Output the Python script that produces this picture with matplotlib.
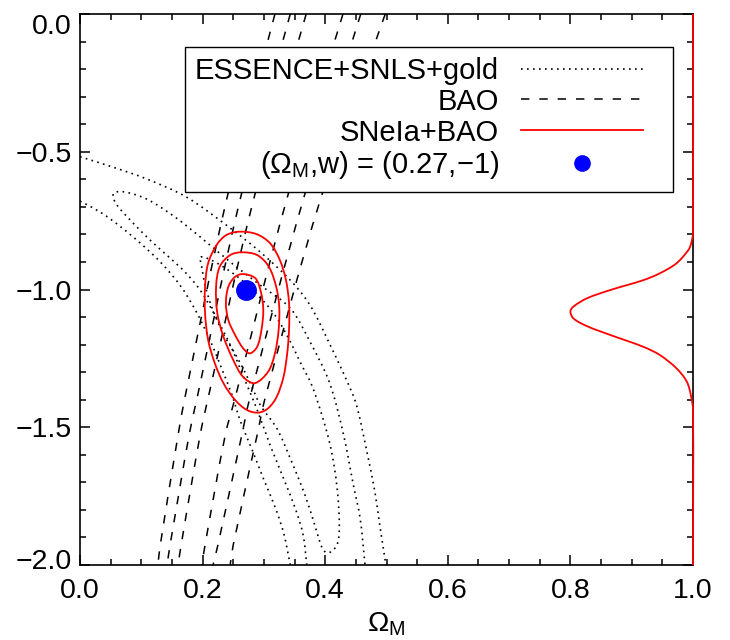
import matplotlib
matplotlib.use("Agg")
import numpy as np
import matplotlib.pyplot as plt
import matplotlib.transforms as mtransforms
from matplotlib.lines import Line2D
from matplotlib.path import Path
from matplotlib.patches import PathPatch
from matplotlib.legend_handler import HandlerLine2D
from matplotlib.ticker import MultipleLocator, FixedLocator, FixedFormatter

plt.rcParams['font.family'] = ['Liberation Sans', 'DejaVu Sans']
plt.rcParams['mathtext.fontset'] = 'custom'
plt.rcParams['mathtext.rm'] = 'Liberation Sans'
plt.rcParams['mathtext.it'] = 'Liberation Sans:italic'
plt.rcParams['mathtext.default'] = 'regular'

# ---------------- data ----------------
# SN (ESSENCE+SNLS+gold) contours, dotted
sn_outer_upper_om = [0.000, 0.054, 0.109, 0.174, 0.245, 0.294, 0.343, 0.375, 0.408, 0.436, 0.451, 0.468, 0.481, 0.489, 0.499]
sn_outer_upper_w = [-0.518, -0.556, -0.599, -0.665, -0.777, -0.864, -0.966, -1.056, -1.201, -1.335, -1.419, -1.589, -1.734, -1.855, -2.0]
sn_outer_lower_om = [0.000, 0.033, 0.065, 0.098, 0.131, 0.163, 0.188, 0.212, 0.232, 0.248, 0.261, 0.281, 0.300, 0.320, 0.333, 0.343]
sn_outer_lower_w = [-0.679, -0.719, -0.770, -0.831, -0.900, -0.984, -1.074, -1.183, -1.292, -1.383, -1.474, -1.583, -1.691, -1.800, -1.891, -2.0]
sn_mid_om = [0.370, 0.364, 0.352, 0.333, 0.310, 0.289, 0.269, 0.245, 0.220, 0.196, 0.171, 0.147, 0.114, 0.082, 0.060, 0.054,
             0.056, 0.073, 0.109, 0.155, 0.196, 0.245, 0.294, 0.343, 0.375, 0.407, 0.430, 0.446, 0.457, 0.465]
sn_mid_w = [-2.0, -1.891, -1.800, -1.691, -1.564, -1.437, -1.329, -1.201, -1.093, -1.002, -0.936, -0.886, -0.820, -0.748, -0.693, -0.664,
            -0.648, -0.646, -0.672, -0.737, -0.809, -0.900, -0.984, -1.068, -1.189, -1.338, -1.528, -1.710, -1.831, -2.0]
sn_inner_om = [0.197, 0.220, 0.253, 0.285, 0.318, 0.343, 0.359, 0.378, 0.396, 0.408, 0.416, 0.421, 0.423, 0.421, 0.413, 0.403,
               0.395, 0.383, 0.367, 0.343, 0.321, 0.294, 0.277, 0.256, 0.233, 0.215, 0.204, 0.199, 0.197]
sn_inner_w = [-0.882, -0.900, -0.947, -1.009, -1.093, -1.189, -1.263, -1.347, -1.466, -1.564, -1.661, -1.757, -1.855, -1.915, -1.946, -1.956,
              -1.938, -1.855, -1.746, -1.613, -1.504, -1.419, -1.336, -1.245, -1.158, -1.064, -0.984, -0.922, -0.882]

# BAO contours, dashed (six edges, left to right)
bao_w = [0.0, -0.675, -1.394, -1.528, -1.927, -2.0]
bao_l3_om = [0.318, 0.239, 0.171, 0.160, 0.131, 0.127]
bao_l2_om = [0.343, 0.261, 0.191, 0.178, 0.147, 0.142]
bao_l1_om = [0.369, 0.283, 0.209, 0.196, 0.165, 0.160]
bao_r1_om = [0.429, 0.337, 0.253, 0.237, 0.204, 0.199]
bao_r2_om = [0.458, 0.364, 0.277, 0.264, 0.225, 0.217]
bao_r3_om = [0.498, 0.392, 0.302, 0.289, 0.250, 0.245]

# SNeIa+BAO contours, red
comb_outer_om = [0.261, 0.288, 0.310, 0.326, 0.336, 0.341, 0.341, 0.338, 0.332, 0.321, 0.307, 0.291, 0.272, 0.253, 0.234,
                 0.220, 0.209, 0.204, 0.204, 0.209, 0.223, 0.239, 0.261]
comb_outer_w = [-0.790, -0.799, -0.832, -0.893, -0.966, -1.050, -1.147, -1.232, -1.317, -1.389, -1.431, -1.447, -1.437, -1.401, -1.340,
                -1.268, -1.183, -1.086, -0.990, -0.905, -0.838, -0.802, -0.790]
comb_mid_om = [0.264, 0.289, 0.308, 0.320, 0.325, 0.324, 0.318, 0.307, 0.285, 0.266, 0.250, 0.234, 0.224, 0.222, 0.228, 0.245, 0.264]
comb_mid_w = [-0.865, -0.875, -0.917, -0.990, -1.062, -1.147, -1.232, -1.298, -1.340, -1.317, -1.256, -1.171, -1.086, -0.990, -0.917, -0.875, -0.865]
comb_inner_om = [0.266, 0.286, 0.295, 0.299, 0.296, 0.289, 0.277, 0.266, 0.253, 0.242, 0.238, 0.242, 0.253, 0.266]
comb_inner_w = [-0.944, -0.959, -1.008, -1.074, -1.147, -1.208, -1.232, -1.213, -1.165, -1.111, -1.050, -0.990, -0.954, -0.944]

# marginalised likelihood of w (SNeIa+BAO), drawn from the right edge
like_w = [0.0, -0.795, -0.820, -0.840, -0.857, -0.905, -0.941, -0.966, -1.002, -1.032, -1.062, -1.080, -1.105, -1.133,
          -1.165, -1.208, -1.238, -1.286, -1.335, -1.389, -1.437, -2.0]
like_p = [0.0, 0.0, 0.008, 0.02, 0.038, 0.135, 0.27, 0.405, 0.675, 0.865, 0.975, 1.0, 0.975, 0.865,
          0.675, 0.405, 0.27, 0.135, 0.05, 0.015, 0.0, 0.0]

best_om = [0.27]
best_w = [-1.0]

x_ticks = [0.0, 0.2, 0.4, 0.6, 0.8, 1.0]
x_labels = ['0.0', '0.2', '0.4', '0.6', '0.8', '1.0']
y_ticks = [0.0, -0.5, -1.0, -1.5, -2.0]
y_labels = ['0.0', '\u22120.5', '\u22121.0', '\u22121.5', '\u22122.0']

legend_labels = ['ESSENCE+SNLS+gold', 'BAO', 'SNeIa+BAO', '($\\Omega_{\\rm M}$,w) = (0.27,\u22121)']

# ---------------- styles ----------------
LIKE_WIDTH = 0.2   # horizontal extent of the likelihood curve in axis units
DOT = dict(color='black', lw=1.2, dashes=(1.0, 2.6))
DASH = dict(color='black', lw=1.1, dashes=(5.5, 6.5))
RED = dict(color='#ff0000', lw=1.3)
SX, SY = 613.0, 275.5   # pixel per data unit, used only for smooth rendering


def smooth_path(xs, ys, closed=False):
    """Smooth curve drawn through the given points (chordal cubic spline)."""
    P = np.column_stack([xs, ys]).astype(float)
    if closed and np.allclose(P[0], P[-1]):
        P = P[:-1]
    n = len(P)
    S = np.array([SX, SY])

    def dist(a, b):
        return float(np.hypot(*((a - b) * S))) + 1e-9

    tang = []
    for i in range(n):
        has_prev = closed or i > 0
        has_next = closed or i < n - 1
        p = P[i]
        if has_prev and has_next:
            a, b = P[(i - 1) % n], P[(i + 1) % n]
            tang.append((b - a) / (dist(p, a) + dist(p, b)))
        elif has_next:
            b = P[i + 1]
            tang.append((b - p) / dist(p, b))
        else:
            a = P[i - 1]
            tang.append((p - a) / dist(p, a))
    verts = [P[0]]
    codes = [Path.MOVETO]
    nseg = n if closed else n - 1
    for i in range(nseg):
        j = (i + 1) % n
        h = dist(P[i], P[j])
        verts += [P[i] + tang[i] * h / 3, P[j] - tang[j] * h / 3, P[j]]
        codes += [Path.CURVE4] * 3
    return Path(verts, codes)


def draw_curve(ax, xs, ys, closed=False, color='black', lw=1.0, dashes=None, **kw):
    ls = (0, dashes) if dashes is not None else '-'
    patch = PathPatch(smooth_path(xs, ys, closed), fill=False, edgecolor=color, lw=lw,
                      linestyle=ls, **kw)
    ax.add_patch(patch)
    return patch


class PaddedLine(HandlerLine2D):
    def __init__(self, right_pad, **kw):
        super().__init__(**kw)
        self.right_pad = right_pad

    def create_artists(self, legend, orig_handle, xdescent, ydescent, width, height, fontsize, trans):
        return super().create_artists(legend, orig_handle, xdescent, ydescent,
                                      width - self.right_pad * fontsize, height, fontsize, trans)


fig = plt.figure(figsize=(7.3, 6.4), dpi=100)
ax = fig.add_axes([80 / 730, 1 - 565 / 640, 613 / 730, 551 / 640])

for xs, ys, cl in [(sn_outer_upper_om, sn_outer_upper_w, False), (sn_outer_lower_om, sn_outer_lower_w, False),
                   (sn_mid_om, sn_mid_w, False), (sn_inner_om, sn_inner_w, True)]:
    draw_curve(ax, xs, ys, closed=cl, **DOT)

for xs in [bao_l3_om, bao_l2_om, bao_l1_om, bao_r1_om, bao_r2_om, bao_r3_om]:
    draw_curve(ax, xs, bao_w, **DASH)

for xs, ys in [(comb_outer_om, comb_outer_w), (comb_mid_om, comb_mid_w), (comb_inner_om, comb_inner_w)]:
    draw_curve(ax, xs, ys, closed=True, zorder=3, **RED)

ax.plot(best_om, best_w, 'o', color='#0000ff', markersize=14, zorder=4)

draw_curve(ax, [1 - LIKE_WIDTH * p for p in like_p], like_w, color='#ff0000', lw=1.3, zorder=5, clip_on=False)

ax.set_xlim(0, 1)
ax.set_ylim(-2, 0)
ax.xaxis.set_major_locator(FixedLocator(x_ticks))
ax.xaxis.set_major_formatter(FixedFormatter(x_labels))
ax.yaxis.set_major_locator(FixedLocator(y_ticks))
ax.yaxis.set_major_formatter(FixedFormatter(y_labels))
ax.xaxis.set_minor_locator(MultipleLocator(0.05))
ax.yaxis.set_minor_locator(MultipleLocator(0.1))
ax.tick_params(which='both', direction='in', top=True, right=True, width=1.1, labelsize=20.5)
ax.tick_params(which='major', length=7.5)
ax.tick_params(which='minor', length=4)
ax.tick_params(axis='x', pad=9)
ax.tick_params(axis='y', pad=6)
for s in ax.spines.values():
    s.set_linewidth(1.2)

# end labels of the y axis sit slightly inside, as in the original
yticks_objs = ax.yaxis.get_major_ticks()
yticks_objs[0].label1.set_transform(yticks_objs[0].label1.get_transform() +
                                    mtransforms.ScaledTranslation(0, -7 / 72, fig.dpi_scale_trans))
yticks_objs[-1].label1.set_transform(yticks_objs[-1].label1.get_transform() +
                                     mtransforms.ScaledTranslation(0, 4.5 / 72, fig.dpi_scale_trans))

ax.set_xlabel('$\\Omega_{\\rm M}$', fontsize=20.5, labelpad=5)

handles = [Line2D([], [], **DOT), Line2D([], [], **DASH), Line2D([], [], **RED),
           Line2D([], [], ls='none', marker='o', color='#0000ff', markersize=11)]
leg = ax.legend(handles, legend_labels, loc='upper right', bbox_to_anchor=(0.967, 0.941), borderaxespad=0,
                markerfirst=False, fontsize=21, handlelength=4.86, handletextpad=0.75, labelspacing=0.1,
                borderpad=0.35, fancybox=False, framealpha=1, edgecolor='black', frameon=True,
                handler_map={Line2D: PaddedLine(0.68)})
leg.get_frame().set_linewidth(1.0)
leg.set_zorder(10)

fig.savefig('out.png', dpi=100)
